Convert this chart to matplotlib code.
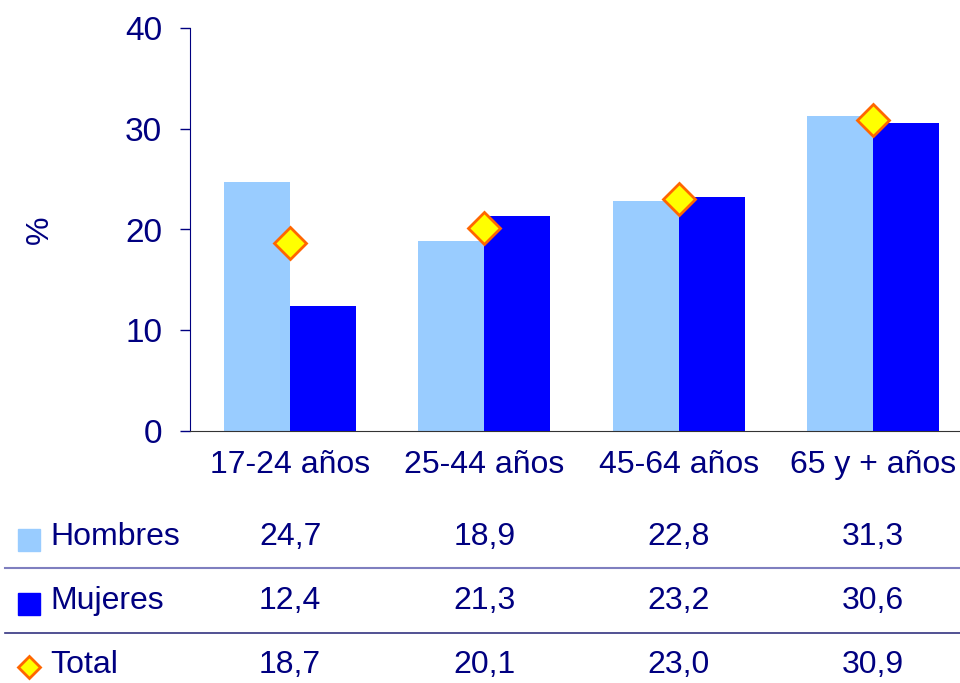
import numpy as np
import matplotlib.pyplot as plt
from matplotlib.transforms import blended_transform_factory
from matplotlib.lines import Line2D

plt.rcParams['font.family'] = ['Liberation Sans Narrow', 'Liberation Sans', 'DejaVu Sans']

# datos por grupo de edad
grupos = ["17-24 años", "25-44 años", "45-64 años", "65 y + años"]
hombres = [24.7, 18.9, 22.8, 31.3]
mujeres = [12.4, 21.3, 23.2, 30.6]
total = [18.7, 20.1, 23.0, 30.9]

navy = "#000080"
c_hom = "#99CCFF"
c_muj = "#0000FF"
fs = 23

W, H = 960, 683
fig = plt.figure(figsize=(W / 100, H / 100), dpi=100)
ax = fig.add_axes([190 / W, 1 - 431 / H, (960 - 190) / W, (431 - 28) / H])

x = np.arange(len(grupos))
bw = 0.34
ax.bar(x - bw / 2, hombres, bw, color=c_hom, zorder=2)
ax.bar(x + bw / 2, mujeres, bw, color=c_muj, zorder=2)
ax.plot(x, total, linestyle="none", marker="D", markersize=16,
        markerfacecolor="#FFFF00", markeredgecolor="#FF6600",
        markeredgewidth=2, zorder=3)

ax.set_xlim(-0.515, 3.448)
ax.set_ylim(0, 40)
ax.set_yticks([0, 10, 20, 30, 40])
ax.tick_params(axis="y", colors=navy, labelsize=fs + 1, length=7, width=1, pad=13)
ax.tick_params(axis="x", length=0, labelsize=fs, labelcolor=navy, pad=14)
ax.set_xticks(x)
ax.set_xticklabels(grupos)
for s in ["top", "right"]:
    ax.spines[s].set_visible(False)
ax.spines["left"].set_color(navy)
ax.spines["bottom"].set_color("#333333")
ax.set_ylabel("%", color=navy, fontsize=fs)
ax.yaxis.set_label_coords(-135 / 770, 0.5)

# tabla de valores bajo el grafico
tr = blended_transform_factory(ax.transData, fig.transFigure)
filas = [("Hombres", hombres, 537), ("Mujeres", mujeres, 601), ("Total", total, 665)]
for nombre, vals, ypx in filas:
    yf = 1 - ypx / H
    fig.text(50 / W, yf, nombre, color=navy, fontsize=fs, va="center", ha="left")
    for xi, v in zip(x, vals):
        fig.text(xi, yf, f"{v:.1f}".replace(".", ","), transform=tr,
                 color=navy, fontsize=fs, va="center", ha="center")

# simbolos de leyenda
fig.add_artist(Line2D([29 / W], [1 - 540 / H], marker="s", markersize=16,
                      color=c_hom, linestyle="none", transform=fig.transFigure))
fig.add_artist(Line2D([29 / W], [1 - 604 / H], marker="s", markersize=16,
                      color=c_muj, linestyle="none", transform=fig.transFigure))
fig.add_artist(Line2D([29 / W], [1 - 667 / H], marker="D", markersize=11,
                      markerfacecolor="#FFFF00", markeredgecolor="#FF6600",
                      markeredgewidth=2, linestyle="none", transform=fig.transFigure))

# lineas separadoras
fig.add_artist(Line2D([5 / W, 1], [1 - 568 / H] * 2, color="#7F7FBF", lw=1.5,
                      transform=fig.transFigure))
fig.add_artist(Line2D([5 / W, 1], [1 - 633 / H] * 2, color="#333380", lw=1.2,
                      transform=fig.transFigure))

fig.savefig("out.png", dpi=100)
